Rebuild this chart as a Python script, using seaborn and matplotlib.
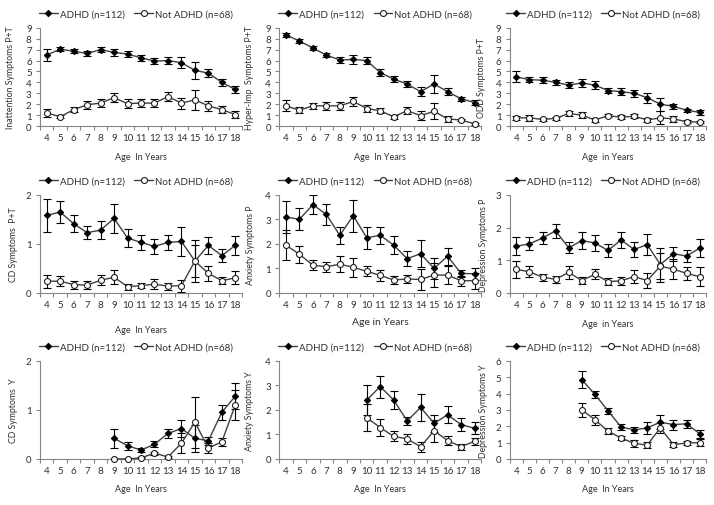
import matplotlib.pyplot as plt
import seaborn as sns

sns.set_theme(style='white')
plt.rcParams['font.family'] = ['Lato', 'DejaVu Sans']

# ── Data ─────────────────────────────────────────
ages_all = list(range(4, 19))
ages_9 = list(range(9, 19))
ages_10 = list(range(10, 19))

inatt_adhd = [6.5, 7.05, 6.85, 6.65, 7.0, 6.75, 6.6, 6.25, 5.95, 6.0, 5.8, 5.1, 4.85, 4.0, 3.35]
inatt_adhd_err = [0.55, 0.2, 0.2, 0.2, 0.2, 0.35, 0.3, 0.25, 0.3, 0.3, 0.5, 0.75, 0.35, 0.3, 0.3]
inatt_ctrl = [1.2, 0.85, 1.5, 1.95, 2.1, 2.6, 2.05, 2.1, 2.1, 2.7, 2.1, 2.4, 1.85, 1.5, 1.05]
inatt_ctrl_err = [0.4, 0.15, 0.25, 0.35, 0.35, 0.4, 0.4, 0.35, 0.35, 0.4, 0.5, 0.9, 0.45, 0.3, 0.3]

hyper_adhd = [8.35, 7.8, 7.15, 6.5, 6.05, 6.1, 6.0, 4.9, 4.3, 3.85, 3.15, 3.85, 3.15, 2.5, 2.15]
hyper_adhd_err = [0.2, 0.15, 0.2, 0.2, 0.25, 0.4, 0.35, 0.3, 0.3, 0.3, 0.4, 0.8, 0.35, 0.2, 0.25]
hyper_ctrl = [1.85, 1.45, 1.85, 1.85, 1.85, 2.25, 1.6, 1.4, 0.85, 1.4, 0.95, 1.35, 0.65, 0.55, 0.2]
hyper_ctrl_err = [0.5, 0.3, 0.3, 0.35, 0.35, 0.45, 0.35, 0.25, 0.2, 0.3, 0.4, 0.75, 0.25, 0.1, 0.1]

odd_adhd = [4.5, 4.25, 4.2, 4.0, 3.75, 3.95, 3.75, 3.25, 3.15, 3.0, 2.6, 2.0, 1.8, 1.45, 1.25]
odd_adhd_err = [0.5, 0.25, 0.25, 0.25, 0.3, 0.4, 0.35, 0.25, 0.3, 0.3, 0.45, 0.6, 0.2, 0.15, 0.2]
odd_ctrl = [0.75, 0.75, 0.6, 0.7, 1.15, 1.0, 0.55, 0.95, 0.8, 0.9, 0.55, 0.75, 0.65, 0.4, 0.35]
odd_ctrl_err = [0.2, 0.25, 0.1, 0.15, 0.25, 0.3, 0.2, 0.15, 0.2, 0.2, 0.2, 0.6, 0.25, 0.15, 0.1]

cdp_adhd = [1.58, 1.65, 1.41, 1.23, 1.28, 1.52, 1.12, 1.03, 0.95, 1.03, 1.05, 0.65, 0.97, 0.76, 0.97]
cdp_adhd_err = [0.33, 0.23, 0.17, 0.14, 0.18, 0.29, 0.19, 0.16, 0.15, 0.16, 0.29, 0.42, 0.18, 0.13, 0.2]
cdp_ctrl = [0.24, 0.24, 0.17, 0.16, 0.26, 0.32, 0.13, 0.15, 0.18, 0.14, 0.15, 0.65, 0.4, 0.25, 0.31]
cdp_ctrl_err = [0.13, 0.1, 0.08, 0.08, 0.1, 0.14, 0.06, 0.05, 0.1, 0.07, 0.12, 0.32, 0.15, 0.07, 0.13]

anxp_adhd = [3.1, 3.0, 3.6, 3.2, 2.35, 3.15, 2.25, 2.35, 1.95, 1.4, 1.6, 1.0, 1.5, 0.8, 0.78]
anxp_adhd_err = [0.65, 0.45, 0.38, 0.42, 0.35, 0.65, 0.45, 0.35, 0.38, 0.3, 0.55, 0.42, 0.35, 0.15, 0.25]
anxp_ctrl = [1.95, 1.58, 1.13, 1.07, 1.17, 1.05, 0.88, 0.72, 0.53, 0.57, 0.55, 0.73, 0.73, 0.5, 0.5]
anxp_ctrl_err = [0.6, 0.35, 0.2, 0.2, 0.32, 0.38, 0.2, 0.22, 0.18, 0.15, 0.42, 0.48, 0.35, 0.2, 0.32]

depp_adhd = [1.43, 1.5, 1.68, 1.9, 1.38, 1.6, 1.53, 1.3, 1.62, 1.33, 1.48, 0.87, 1.2, 1.13, 1.37]
depp_adhd_err = [0.28, 0.2, 0.18, 0.22, 0.17, 0.25, 0.25, 0.2, 0.24, 0.22, 0.33, 0.52, 0.22, 0.17, 0.28]
depp_ctrl = [0.72, 0.65, 0.48, 0.42, 0.63, 0.38, 0.57, 0.35, 0.37, 0.5, 0.38, 0.82, 0.73, 0.6, 0.5]
depp_ctrl_err = [0.25, 0.16, 0.1, 0.1, 0.2, 0.12, 0.15, 0.12, 0.12, 0.2, 0.23, 0.4, 0.3, 0.2, 0.3]

cdy_adhd = [0.42, 0.27, 0.18, 0.3, 0.52, 0.62, 0.42, 0.37, 0.95, 1.28]
cdy_adhd_err = [0.2, 0.08, 0.04, 0.06, 0.1, 0.18, 0.27, 0.08, 0.15, 0.27]
cdy_ctrl = [0.0, 0.0, 0.02, 0.12, 0.04, 0.32, 0.75, 0.22, 0.35, 1.1]
cdy_ctrl_err = [0.0, 0.0, 0.01, 0.03, 0.02, 0.2, 0.52, 0.1, 0.08, 0.3]

anxy_adhd = [2.4, 2.95, 2.4, 1.55, 2.1, 1.45, 1.8, 1.4, 1.25]
anxy_adhd_err = [0.6, 0.45, 0.38, 0.15, 0.55, 0.35, 0.35, 0.28, 0.25]
anxy_ctrl = [1.68, 1.28, 0.92, 0.82, 0.5, 1.15, 0.75, 0.5, 0.72]
anxy_ctrl_err = [0.55, 0.33, 0.2, 0.2, 0.2, 0.45, 0.18, 0.12, 0.15]

depy_adhd = [4.85, 3.95, 2.95, 1.95, 1.78, 1.9, 2.25, 2.1, 2.15, 1.55]
depy_adhd_err = [0.5, 0.22, 0.18, 0.2, 0.2, 0.35, 0.42, 0.3, 0.25, 0.25]
depy_ctrl = [3.0, 2.4, 1.7, 1.28, 0.95, 0.85, 1.9, 0.88, 0.97, 1.0]
depy_ctrl_err = [0.45, 0.3, 0.2, 0.15, 0.2, 0.2, 0.3, 0.15, 0.12, 0.2]

ylabels = ['Inattention Symptoms P+T', 'Hyper-Imp  Symptoms P+T', 'ODD Symptoms P+T',
           'CD Symptoms  P+T', 'Anxiety Symptoms P', 'Depression Symptoms P',
           'CD Symptoms  Y', 'Anxiety Symptoms Y', 'Depression Symptoms Y']
xlabels = ['Age  In Years', 'Age  In Years', 'Age  in Years',
           'Age  In Years', 'Age in Years', 'Age  in Years',
           'Age  In Years', 'Age  In Years', 'Age  In Years']
ymaxes = [9, 9, 9, 2, 4, 3, 2, 4, 6]

panels = [
    (ages_all, inatt_adhd, inatt_adhd_err, inatt_ctrl, inatt_ctrl_err),
    (ages_all, hyper_adhd, hyper_adhd_err, hyper_ctrl, hyper_ctrl_err),
    (ages_all, odd_adhd, odd_adhd_err, odd_ctrl, odd_ctrl_err),
    (ages_all, cdp_adhd, cdp_adhd_err, cdp_ctrl, cdp_ctrl_err),
    (ages_all, anxp_adhd, anxp_adhd_err, anxp_ctrl, anxp_ctrl_err),
    (ages_all, depp_adhd, depp_adhd_err, depp_ctrl, depp_ctrl_err),
    (ages_9, cdy_adhd, cdy_adhd_err, cdy_ctrl, cdy_ctrl_err),
    (ages_10, anxy_adhd, anxy_adhd_err, anxy_ctrl, anxy_ctrl_err),
    (ages_9, depy_adhd, depy_adhd_err, depy_ctrl, depy_ctrl_err),
]

# ── Layout (figure fractions) ────────────────────
col_left = [0.056, 0.391, 0.714]
col_width = [0.283, 0.283, 0.275]
row_bottom = [0.749, 0.419, 0.091]
ax_height = 0.194
xlabel_y = [-0.26, -0.26, -0.26, -0.33, -0.24, -0.26, -0.26, -0.26, -0.26]
ylabel_x = [-0.125, -0.125, -0.12, -0.11, -0.12, -0.11, -0.11, -0.125, -0.11]

line_col = '#404040'
axis_col = '#868686'
text_col = '#303030'

fig = plt.figure(figsize=(7.14, 5.06), dpi=100)

for i, (ages, adhd, adhd_err, ctrl, ctrl_err) in enumerate(panels):
    r, c = divmod(i, 3)
    ax = fig.add_axes([col_left[c], row_bottom[r], col_width[c], ax_height])

    ax.errorbar(ages, adhd, yerr=adhd_err, fmt='none', ecolor='black',
                elinewidth=0.8, capsize=2.6, capthick=0.8, zorder=2)
    ax.errorbar(ages, ctrl, yerr=ctrl_err, fmt='none', ecolor='black',
                elinewidth=0.8, capsize=2.6, capthick=0.8, zorder=2)
    sns.lineplot(x=ages, y=adhd, ax=ax, color=line_col, linewidth=1.0,
                 marker='D', markersize=3.2, markerfacecolor='black',
                 markeredgecolor='black', label='ADHD (n=112)', zorder=3, clip_on=False)
    sns.lineplot(x=ages, y=ctrl, ax=ax, color=line_col, linewidth=1.0,
                 marker='o', markersize=4.3, markerfacecolor='white',
                 markeredgecolor='#202020', markeredgewidth=0.8,
                 label='Not ADHD (n=68)', zorder=3, clip_on=False)

    ax.set_xlim(3.5, 18.5)
    ax.set_ylim(0, ymaxes[i])
    ax.set_xticks(ages_all)
    ax.set_xticks([a - 0.5 for a in ages_all] + [18.5], minor=True)
    ax.set_yticks(range(0, ymaxes[i] + 1))
    ax.tick_params(axis='x', which='major', length=0, pad=5, labelsize=7, labelcolor=text_col)
    ax.tick_params(axis='x', which='minor', length=3, width=0.8, color=axis_col, direction='out', bottom=True)
    ax.tick_params(axis='y', length=3, width=0.8, color=axis_col, direction='out', left=True,
                   pad=3, labelsize=7, labelcolor=text_col)

    for side in ['top', 'right']:
        ax.spines[side].set_visible(False)
    for side in ['left', 'bottom']:
        ax.spines[side].set_color(axis_col)
        ax.spines[side].set_linewidth(0.8)

    xfs = 7.5 if i == 4 else 6.5
    ax.set_xlabel(xlabels[i], fontsize=xfs, color=text_col)
    ax.xaxis.set_label_coords(0.5, xlabel_y[i])
    ax.set_ylabel(ylabels[i], fontsize=6.3, color=text_col)
    ax.yaxis.set_label_coords(ylabel_x[i], 0.5)

    ax.legend(loc='center', bbox_to_anchor=(0.475, 1.14), ncol=2, frameon=False,
              fontsize=7, handlelength=1.9, handletextpad=0.2, columnspacing=1.0,
              labelcolor=text_col, borderaxespad=0)

plt.savefig('out.png', dpi=100)
plt.close()
